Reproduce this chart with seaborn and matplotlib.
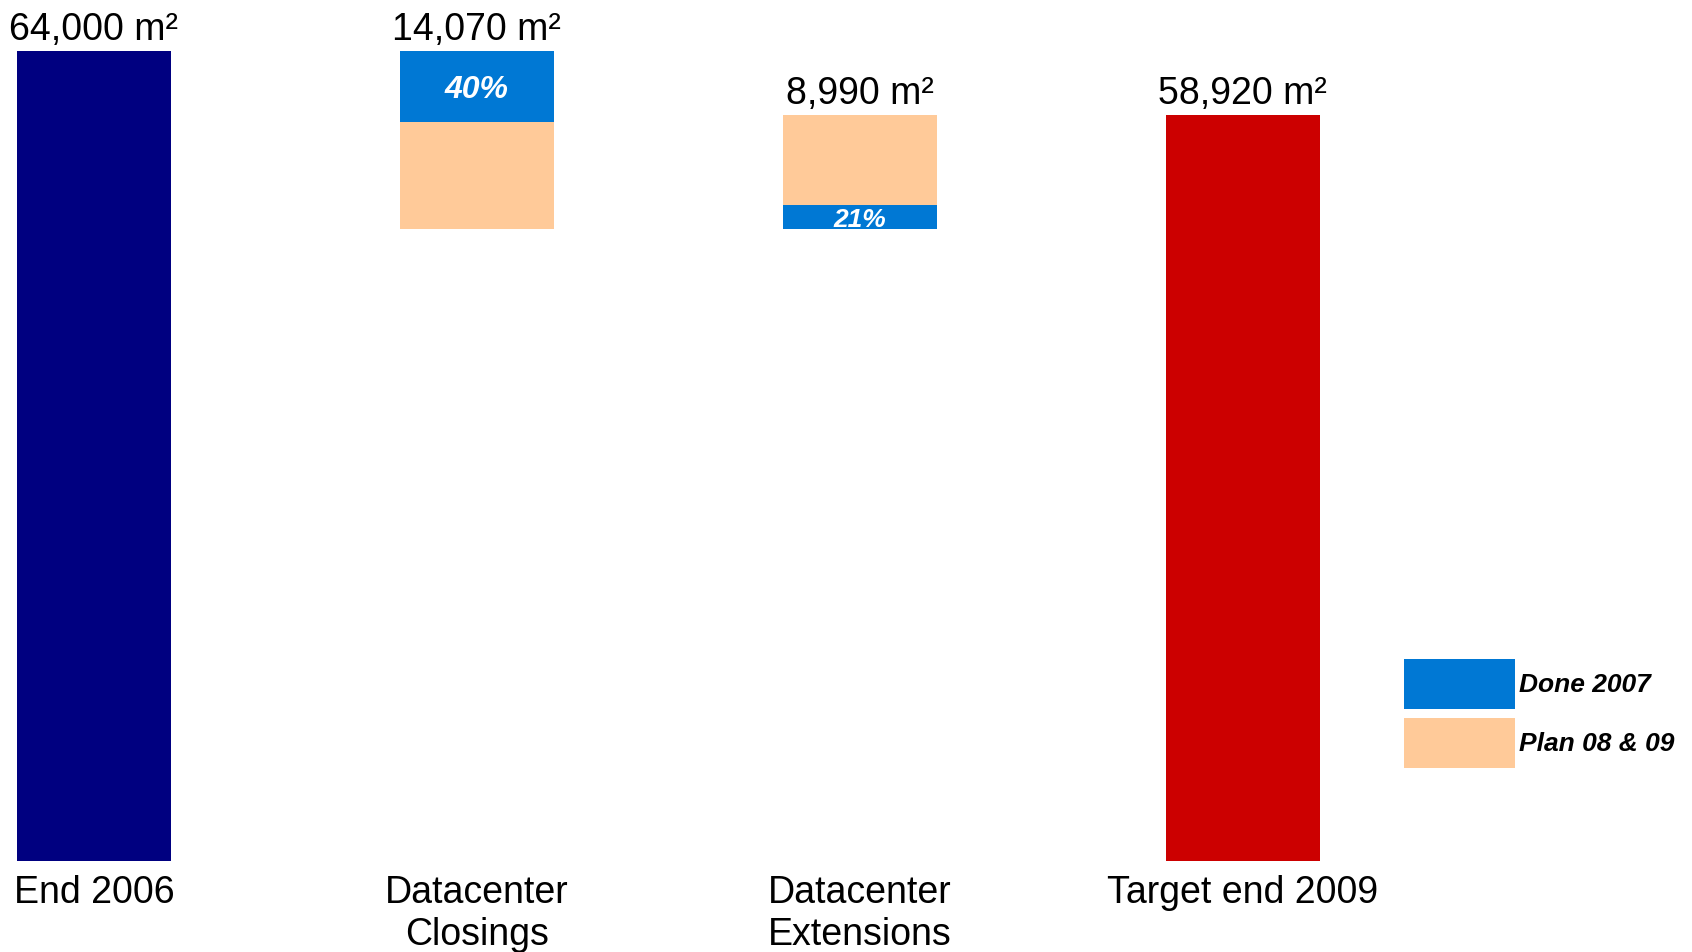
import numpy as np
import pandas as pd
import matplotlib
matplotlib.use('Agg')
import matplotlib.pyplot as plt
import seaborn as sns
from matplotlib.patches import Patch

# data
categories = ['End 2006', 'Datacenter\nClosings', 'Datacenter\nExtensions', 'Target end 2009']
start_total = 64000
closings = 14070
extensions = 8990
target_total = 58920
done_share = [0.40, 0.21]  # closings, extensions
value_labels = ['64,000 m²', '14,070 m²', '8,990 m²', '58,920 m²']
legend_labels = ['Done 2007', 'Plan 08 & 09']

navy = '#000080'
red = '#CC0000'
blue = '#0078D4'
peach = '#FFCA99'

sns.set_style('white')
plt.rcParams['font.family'] = ['Liberation Sans', 'DejaVu Sans']
plt.rcParams['text.color'] = 'black'
plt.rcParams['xtick.color'] = 'black'

fig = plt.figure(figsize=(16.92, 9.52), dpi=100)
ax = fig.add_axes([0, 1 - 861 / 952, 1, 861 / 952])

# total bars (seaborn)
totals = pd.DataFrame({'cat': [categories[0], categories[3]],
                       'val': [start_total, target_total]})
sns.barplot(data=totals, x='cat', y='val', order=categories, hue='cat',
            palette=[navy, red], width=0.4, legend=False, ax=ax,
            saturation=1, linewidth=0)

# floating segments
w = 0.4
after_close = start_total - closings
done_close = closings * done_share[0]
done_ext = extensions * done_share[1]
# closings: done on top, plan below
ax.bar(1, done_close, bottom=start_total - done_close, width=w, color=blue, linewidth=0)
ax.bar(1, closings - done_close, bottom=after_close, width=w, color=peach, linewidth=0)
# extensions: done at bottom, plan on top
ax.bar(2, done_ext, bottom=after_close, width=w, color=blue, linewidth=0)
ax.bar(2, extensions - done_ext, bottom=after_close + done_ext, width=w, color=peach, linewidth=0)

# percent labels
ax.annotate(f'{done_share[0]:.0%}', (1, start_total - done_close / 2), xytext=(0, -3),
            textcoords='offset points', ha='center', va='center',
            color='white', fontsize=23, fontweight='bold', fontstyle='italic')
ax.annotate(f'{done_share[1]:.0%}', (2, after_close + done_ext / 2), xytext=(0, -2),
            textcoords='offset points', ha='center', va='center',
            color='white', fontsize=19, fontweight='bold', fontstyle='italic')

# value labels above bars
tops = [start_total, start_total, after_close + extensions, target_total]
for i, (t, lab) in enumerate(zip(tops, value_labels)):
    ax.annotate(lab, (i, t), xytext=(0, 2), textcoords='offset points',
                ha='center', va='bottom', fontsize=27, color='black')

left = -0.2 - 17.3 / 383
ax.set_xlim(left, left + 1692 / 383)
ax.set_ylim(0, start_total * 861 / 810.3)
ax.set_xlabel('')
ax.set_ylabel('')
ax.set_yticks([])
ax.set_xticks(range(len(categories)))
ax.set_xticklabels(categories, fontsize=27, multialignment='center', linespacing=1.22)
ax.tick_params(axis='x', length=0, pad=10)
for s in ax.spines.values():
    s.set_visible(False)
ax.patch.set_alpha(0)

handles = [Patch(facecolor=blue, edgecolor='none'), Patch(facecolor=peach, edgecolor='none')]
fig.legend(handles, legend_labels, loc='upper left', bbox_to_anchor=(1404 / 1692, 1 - 659 / 952),
           frameon=False, borderpad=0, borderaxespad=0, handlelength=4.2, handleheight=2.54,
           labelspacing=0.34, handletextpad=0.15,
           prop={'size': 19, 'weight': 'bold', 'style': 'italic'})

fig.savefig('out.png', dpi=100)
